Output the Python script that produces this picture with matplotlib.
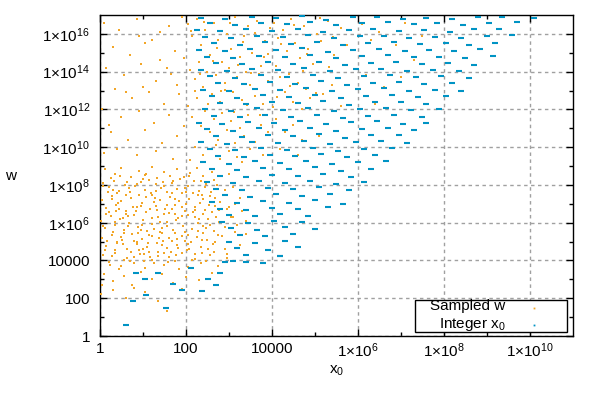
import numpy as np
import matplotlib
matplotlib.use('Agg')
import matplotlib.pyplot as plt
from matplotlib.ticker import FixedLocator, FuncFormatter, NullFormatter
from matplotlib.patches import Rectangle

plt.rcParams['font.family'] = ['Liberation Sans', 'DejaVu Sans']
plt.rcParams['mathtext.fontset'] = 'custom'
plt.rcParams['mathtext.rm'] = 'Liberation Sans'
plt.rcParams['mathtext.it'] = 'Liberation Sans:italic'
plt.rcParams['mathtext.bf'] = 'Liberation Sans:bold'
plt.rcParams['font.size'] = 11

# ---------------- axis settings (decade exponents) ----------------
x_major_exp = [0, 2, 4, 6, 8, 10]
x_minor_exp = [1, 3, 5, 7, 9]
y_major_exp = [0, 2, 4, 6, 8, 10, 12, 14, 16]
y_minor_exp = [1, 3, 5, 7, 9, 11, 13, 15]
x_limits = (1, 1e11)
y_limits = (1, 1e17)
x_label = 'x$_0$'
y_label = 'w'
legend_labels = ['Sampled w', 'Integer x$_0$']

# ---------------- data, as (log10 x0, log10 w) ----------------
sampled_dense = [
    (0.12,8.85),(0.35,8.6),(0.5,8.9),(0.72,8.4),(0.9,8.75),(1.05,8.55),(1.2,8.95),(1.33,8.35),
    (1.5,8.7),(1.62,8.5),(1.8,8.85),(1.95,8.4),(2.1,8.65),(2.25,8.9),(2.4,8.45),(2.6,8.7),
    (2.8,8.5),(0.25,8.35),(0.62,8.15),(1.15,8.25),(1.7,8.2),(2.35,8.2),(3.0,8.6),
    (0.08,8.1),(0.2,7.9),(0.33,8.2),(0.45,7.7),(0.58,8.0),(0.7,7.6),(0.82,7.95),(0.95,8.15),
    (1.05,7.75),(1.18,7.55),(1.3,8.05),(1.42,7.85),(1.55,7.6),(1.68,8.1),(1.8,7.8),(1.92,7.55),
    (2.05,7.95),(2.18,8.2),(2.3,7.7),(2.45,7.9),(2.58,7.6),(2.72,8.0),(2.9,7.75),(3.1,7.9),
    (0.4,7.55),(1.0,8.3),(1.5,7.95),(2.0,7.65),(2.65,8.25),
    (0.05,7.2),(0.15,6.8),(0.28,7.4),(0.38,6.95),(0.5,7.15),(0.6,6.6),(0.72,7.3),(0.85,6.85),
    (0.97,7.05),(1.08,6.55),(1.2,7.45),(1.3,6.9),(1.4,7.2),(1.52,6.7),(1.63,7.35),(1.75,6.95),
    (1.85,7.15),(1.97,6.6),(2.08,7.25),(2.2,6.85),(2.32,7.05),(2.45,6.65),(2.55,7.4),(2.68,6.9),
    (2.8,7.1),(2.95,6.7),(3.15,7.0),(3.3,6.6),(0.22,6.55),(0.9,7.45),(1.6,6.52),(2.38,7.45),
    (0.45,6.7),(1.25,7.1),(2.0,7.0),(2.6,6.55),
    (0.03,6.1),(0.12,5.7),(0.25,6.35),(0.35,5.9),(0.47,6.2),(0.55,5.6),(0.68,6.0),(0.78,6.4),
    (0.88,5.75),(1.0,6.15),(1.1,5.55),(1.22,5.95),(1.35,6.3),(1.45,5.7),(1.57,6.05),(1.7,5.6),
    (1.82,6.25),(1.93,5.85),(2.05,6.4),(2.15,5.65),(2.28,6.0),(2.4,5.8),(2.52,6.2),(2.65,5.55),
    (2.78,6.05),(2.92,5.75),(3.05,6.3),(3.2,5.9),(3.4,6.1),(0.6,6.45),(1.4,5.52),(2.2,6.3),
    (0.95,5.6),(1.75,6.45),
    (0.05,5.2),(0.15,4.75),(0.28,5.35),(0.4,4.9),(0.52,5.1),(0.63,4.6),(0.75,5.4),(0.85,4.85),
    (0.98,5.15),(1.1,4.7),(1.2,5.3),(1.32,4.95),(1.45,5.45),(1.55,4.65),(1.68,5.05),(1.8,4.8),
    (1.9,5.3),(2.02,4.55),(2.12,5.0),(2.25,5.25),(2.35,4.7),(2.5,5.1),(2.62,4.85),(2.75,5.35),
    (2.9,4.6),(3.05,5.0),(3.25,4.8),(0.35,4.55),(1.0,4.6),(1.6,5.2),(2.4,5.45),
    (0.08,4.3),(0.22,3.9),(0.35,4.4),(0.5,3.7),(0.62,4.15),(0.8,3.85),(0.93,4.35),(1.05,3.6),
    (1.2,4.05),(1.35,4.45),(1.48,3.75),(1.6,4.2),(1.75,3.95),(1.9,4.4),(2.05,3.65),(2.2,4.1),
    (2.35,3.85),(2.55,4.3),(2.75,3.7),(2.95,4.15),(0.45,3.55),(1.15,4.45),(1.85,3.55),(2.65,4.45),
    (0.1,3.3),(0.3,2.9),(0.55,3.2),(0.75,2.7),(0.95,3.4),(1.2,3.0),(1.45,3.3),(1.7,2.8),
    (2.0,3.15),(2.3,2.95),(2.6,3.35),(0.05,2.7),
]

sampled_core = [
    (0.18,7.6),(0.42,7.05),(0.66,6.35),(0.88,5.45),(1.12,4.95),(1.36,4.25),(1.58,3.9),(1.82,4.65),
    (2.06,5.35),(2.3,6.2),(2.54,6.95),(0.3,5.5),(0.54,4.85),(0.78,4.2),(1.02,3.95),(1.26,5.65),
    (1.5,6.45),(1.74,7.25),(1.98,7.85),(2.22,4.35),(2.46,3.95),(0.12,4.55),(0.36,6.05),(0.6,7.45),
    (0.84,6.6),(1.08,7.35),(1.32,6.65),(1.56,5.85),(1.8,5.15),(2.04,4.85),(2.28,5.55),(2.52,4.6),
    (0.24,3.75),(0.48,5.25),(0.72,4.45),(0.96,6.9),(1.2,6.25),(1.44,4.8),(1.68,6.75),(1.92,6.35),
    (2.16,7.55),(2.4,6.45),(0.06,5.85),(0.3,7.75),(0.54,6.25),(0.78,5.05),(1.02,4.35),(1.26,3.85),
    (1.5,4.4),(1.74,5.45),(1.98,5.05),(2.22,6.65),(2.46,5.7),(2.7,6.3),(2.85,5.3),(3.0,6.85),
    (3.15,5.5),(2.95,4.35),(0.15,6.45),(0.4,5.0),(0.65,5.85),(0.9,4.55),(1.15,5.35),(1.4,6.05),
    (1.65,4.45),(1.9,6.85),(2.15,4.05),(2.4,7.25),(0.7,3.95),(1.3,7.7),
    (0.07,7.95),(0.27,7.25),(0.47,8.45),(0.67,7.85),(0.87,8.05),(1.07,8.6),(1.27,7.3),(1.47,8.15),
    (1.67,7.55),(1.87,8.3),(2.07,8.45),(2.27,7.45),(2.47,8.05),(2.67,7.3),(0.17,5.05),(0.37,6.6),
    (0.57,5.45),(0.77,6.85),(0.97,5.9),(1.17,6.7),(1.37,5.2),(1.57,6.95),(1.77,6.15),(1.97,5.5),
    (2.17,6.55),(2.37,5.1),(2.57,5.9),(2.77,6.65),(0.27,4.25),(0.57,4.05),(0.87,5.0),(1.17,4.2),
    (1.47,5.05),(1.77,4.3),(2.07,4.6),(2.37,4.4),(2.67,5.0),(3.1,6.3),(3.25,7.3),(3.4,5.4),
]

sampled_low = [
    (0.02,2.2),(0.3,2.45),(0.6,2.0),(1.05,2.35),(1.35,1.85),(1.55,1.35),(1.9,2.5),(0.8,2.55),
]

sampled_upper = [
    (0.1,16.6),(0.45,16.2),(0.85,16.8),(1.2,15.7),(1.6,16.4),(1.9,16.9),(0.3,15.3),(0.7,14.9),
    (1.05,15.5),(1.4,14.6),(1.75,15.1),(0.15,14.2),(0.55,13.8),(0.95,14.4),(1.3,13.5),(1.65,13.9),
    (1.95,14.7),(0.35,13.1),(0.75,12.6),(1.15,12.9),(1.5,12.3),(1.85,12.8),(0.05,12.0),(0.5,11.6),
    (0.9,11.9),(1.25,11.3),(1.6,11.7),(1.95,11.1),(0.25,10.8),(0.65,10.4),(1.05,10.9),(1.45,10.2),
    (1.8,10.6),(0.4,9.9),(0.85,9.6),(1.3,9.8),(1.7,9.4),(0.2,11.2),(0.6,12.9),(1.0,13.2),
    (1.4,16.1),(1.8,13.3),(0.9,15.9),(1.55,14.2),(0.1,9.7),
    (2.05,16.5),(2.15,15.9),(2.25,16.8),(2.35,15.4),(2.45,16.2),(2.55,14.9),(2.65,16.6),(2.75,15.7),
    (2.85,14.5),(2.95,16.0),(3.05,15.2),(3.15,16.9),(3.25,14.8),(3.35,15.9),(3.45,16.4),(3.55,15.0),
    (3.65,16.7),(3.75,14.3),(3.85,15.6),(3.95,16.3),
    (2.1,14.1),(2.2,13.6),(2.3,14.5),(2.4,13.2),(2.5,14.0),(2.6,12.8),(2.7,13.8),(2.8,12.4),
    (2.9,13.4),(3.0,14.2),(3.1,12.9),(3.2,13.7),(3.3,12.5),(3.4,14.0),(3.5,13.3),(3.6,12.7),
    (3.7,13.9),(3.8,12.3),(3.9,13.5),
    (2.05,12.2),(2.15,11.6),(2.25,12.6),(2.35,11.1),(2.45,11.9),(2.55,10.8),(2.65,11.5),(2.75,10.4),
    (2.85,11.8),(2.95,10.9),(3.05,11.4),(3.15,10.2),(3.25,11.0),(3.35,10.6),(3.45,11.7),(3.6,10.3),
    (3.75,11.2),(3.9,10.8),
    (2.2,10.0),(2.4,9.6),(2.6,9.9),(2.8,9.4),(3.0,9.8),(3.2,9.5),(3.5,9.9),(3.8,9.6),
    (2.1,9.3),(2.7,10.1),(3.3,9.2),
    (4.05,16.6),(4.15,15.8),(4.25,16.2),(4.35,15.1),(4.45,16.8),(4.55,15.5),(4.65,14.7),(4.75,16.4),
    (4.85,15.2),(4.95,14.4),(5.05,16.0),(5.15,15.6),(5.3,16.7),(5.45,14.9),(5.6,16.3),(5.75,15.4),
    (4.1,14.3),(4.2,13.7),(4.3,12.9),(4.4,13.9),(4.5,12.4),(4.6,13.4),(4.7,12.0),(4.8,13.1),
    (4.9,12.6),(5.0,13.8),(5.2,12.8),(5.4,13.3),(5.6,12.2),
    (4.1,11.5),(4.3,10.8),(4.5,11.2),(4.7,10.4),(4.9,11.0),(4.2,9.9),(4.6,9.6),(5.1,10.6),
    (6.1,16.5),(6.3,15.7),(6.5,16.1),(6.7,14.9),(6.9,15.4),(7.1,16.6),(7.3,14.6),(7.5,15.9),
    (6.2,13.8),(6.6,13.2),(6.4,12.3),(7.0,13.7),
    (2.12,16.15),(2.42,16.65),(2.72,15.25),(3.02,16.55),(3.32,15.55),(3.62,16.05),(3.92,14.95),(4.22,15.45),
    (4.52,16.45),(4.82,14.95),(5.12,16.85),(5.42,15.85),(2.32,13.85),(2.62,14.55),(2.92,13.05),(3.22,14.35),
    (3.52,13.95),(3.82,14.75),(4.12,12.65),(4.42,13.25),(4.72,14.05),(5.02,12.85),(5.32,14.25),(2.22,12.95),
    (2.52,12.3),(2.82,12.95),(3.12,11.85),(3.42,12.25),(3.72,11.7),(4.02,12.15),
]

integer_dashes = [
    (2.35,16.85),(2.9,16.78),(3.55,16.9),(4.1,16.82),(4.7,16.93),(5.25,16.76),(5.9,16.87),(6.45,16.91),
    (7.05,16.8),(7.6,16.85),(8.2,16.77),(8.8,16.89),(9.35,16.92),(10.1,16.83),
    (2.55,16.55),(3.15,16.48),(3.75,16.6),(4.35,16.52),(4.9,16.63),(5.5,16.46),(6.1,16.57),(6.7,16.61),
    (7.3,16.5),(7.85,16.55),(8.45,16.47),(9.05,16.59),(9.7,16.62),
    (2.25,16.2),(2.8,16.13),(3.4,16.25),(4.0,16.17),(4.6,16.28),(5.2,16.11),(5.8,16.22),(6.35,16.26),
    (6.95,16.15),(7.55,16.2),(8.15,16.12),(8.7,16.24),(9.3,16.27),
    (2.45,15.85),(3.05,15.78),(3.65,15.9),(4.25,15.82),(4.85,15.93),(5.45,15.76),(6.05,15.87),(6.6,15.91),
    (7.2,15.8),(7.8,15.85),(8.4,15.77),(9.0,15.89),(9.6,15.92),
    (2.65,15.5),(3.25,15.43),(3.85,15.55),(4.45,15.47),(5.05,15.58),(5.65,15.41),(6.25,15.52),(6.85,15.56),
    (7.45,15.45),(8.05,15.5),(8.6,15.42),(9.2,15.54),
    (2.3,15.15),(2.9,15.08),(3.5,15.2),(4.1,15.12),(4.7,15.23),(5.3,15.06),(5.9,15.17),(6.5,15.21),
    (7.1,15.1),(7.65,15.15),(8.25,15.07),(8.85,15.19),
    (2.5,14.8),(3.1,14.73),(3.7,14.85),(4.3,14.77),(4.9,14.88),(5.5,14.71),(6.1,14.82),(6.7,14.86),
    (7.3,14.75),(7.9,14.8),(8.5,14.72),(9.15,14.84),
    (2.7,14.45),(3.3,14.38),(3.9,14.5),(4.5,14.42),(5.1,14.53),(5.7,14.36),(6.3,14.47),(6.9,14.51),
    (7.5,14.4),(8.1,14.45),(8.7,14.37),
    (2.35,14.1),(2.95,14.03),(3.55,14.15),(4.15,14.07),(4.75,14.18),(5.35,14.01),(5.95,14.12),(6.55,14.16),
    (7.15,14.05),(7.75,14.1),(8.35,14.02),
    (2.55,13.75),(3.15,13.68),(3.75,13.8),(4.35,13.72),(4.95,13.83),(5.55,13.66),(6.15,13.77),(6.75,13.81),
    (7.35,13.7),(7.95,13.75),(8.6,13.67),
    (2.75,13.4),(3.35,13.33),(3.95,13.45),(4.55,13.37),(5.15,13.48),(5.75,13.31),(6.35,13.42),(6.95,13.46),
    (7.55,13.35),(8.2,13.4),
    (2.4,13.05),(3.0,12.98),(3.6,13.1),(4.2,13.02),(4.8,13.13),(5.4,12.96),(6.0,13.07),(6.6,13.11),
    (7.2,13.0),(7.8,13.05),(8.4,12.97),
    (2.6,12.7),(3.2,12.63),(3.8,12.75),(4.4,12.67),(5.0,12.78),(5.6,12.61),(6.2,12.72),(6.8,12.76),
    (7.4,12.65),(8.05,12.7),
    (2.8,12.35),(3.4,12.28),(4.0,12.4),(4.6,12.32),(5.2,12.43),(5.8,12.26),(6.4,12.37),(7.0,12.41),
    (7.6,12.3),
    (2.45,12.0),(3.05,11.93),(3.65,12.05),(4.25,11.97),(4.85,12.08),(5.45,11.91),(6.05,12.02),(6.65,12.06),
    (7.25,11.95),(7.9,12.0),
    (2.65,11.65),(3.25,11.58),(3.85,11.7),(4.45,11.62),(5.05,11.73),(5.65,11.56),(6.25,11.67),(6.85,11.71),
    (7.5,11.6),
    (2.3,11.3),(2.85,11.23),(3.45,11.35),(4.05,11.27),(4.65,11.38),(5.25,11.21),(5.85,11.32),(6.45,11.36),
    (7.05,11.25),(7.6,11.3),
    (2.5,10.95),(3.1,10.88),(3.7,11.0),(4.3,10.92),(4.9,11.03),(5.5,10.86),(6.1,10.97),(6.7,11.01),
    (7.3,10.9),
    (2.7,10.6),(3.3,10.53),(3.9,10.65),(4.5,10.57),(5.1,10.68),(5.7,10.51),(6.3,10.62),(6.95,10.66),
    (2.35,10.25),(2.95,10.18),(3.55,10.3),(4.15,10.22),(4.75,10.33),(5.35,10.16),(5.95,10.27),(6.55,10.31),
    (7.15,10.2),
    (2.55,9.9),(3.15,9.83),(3.75,9.95),(4.35,9.87),(4.95,9.98),(5.55,9.81),(6.15,9.92),(6.8,9.96),
    (2.75,9.55),(3.35,9.48),(3.95,9.6),(4.55,9.52),(5.15,9.63),(5.75,9.46),(6.4,9.57),
    (2.4,9.2),(3.0,9.13),(3.6,9.25),(4.2,9.17),(4.8,9.28),(5.4,9.11),(6.0,9.22),(6.65,9.26),
    (2.6,8.85),(3.2,8.78),(3.8,8.9),(4.4,8.82),(5.0,8.93),(5.6,8.76),(6.3,8.87),
    (2.8,8.5),(3.4,8.43),(4.0,8.55),(4.6,8.47),(5.2,8.58),(5.85,8.41),
    (2.5,8.15),(3.1,8.08),(3.7,8.2),(4.3,8.12),(4.9,8.23),(5.5,8.06),(6.15,8.17),
    (2.7,7.8),(3.3,7.73),(3.9,7.85),(4.5,7.77),(5.1,7.88),(5.8,7.71),
    (2.9,7.45),(3.5,7.38),(4.1,7.5),(4.7,7.42),(5.35,7.53),
    (2.6,7.1),(3.2,7.03),(3.8,7.15),(4.4,7.07),(5.0,7.18),(5.65,7.01),
    (2.8,6.75),(3.4,6.68),(4.0,6.8),(4.6,6.72),(5.3,6.83),
    (3.0,6.4),(3.6,6.33),(4.2,6.45),(4.85,6.37),
    (2.85,6.05),(3.45,5.98),(4.05,6.1),(4.7,6.02),
    (3.05,5.7),(3.65,5.63),(4.3,5.75),(5.0,5.67),
    (3.25,5.35),(3.85,5.28),(4.5,5.4),
    (3.0,5.0),(3.6,4.93),(4.3,5.05),
    (3.2,4.65),(3.9,4.58),(4.6,4.7),
    (3.4,4.3),(4.2,4.23),
    (3.1,3.95),(3.8,3.88),
]

integer_sparse = [
    (0.60,0.58),(0.76,1.85),(1.06,2.17),(1.53,1.48),(1.04,3.02),(1.34,3.33),(1.71,2.75),(1.92,2.43),
    (2.38,2.38),(2.52,3.02),(2.71,2.70),(2.80,3.33),(2.92,3.92),(3.40,3.92),(4.19,4.23),(0.83,3.33),
    (2.11,3.60),
]

# ---------------- build arrays ----------------
sampled = np.array(sampled_dense + sampled_core + sampled_low + sampled_upper)
integer = np.array(integer_dashes + integer_sparse)
sampled_x0, sampled_w = 10.0 ** sampled[:, 0], 10.0 ** sampled[:, 1]
integer_x0, integer_w = 10.0 ** integer[:, 0], 10.0 ** integer[:, 1]

orange = '#F2A628'
blue = '#0093C4'

fig = plt.figure(figsize=(6, 4), dpi=100)
ax = fig.add_axes([100 / 600, 64 / 400, 472.5 / 600, 321 / 400])

ax.plot(sampled_x0, sampled_w, ls='none', marker='s', ms=1.9, mew=0, color=orange, zorder=3)
ax.plot(integer_x0, integer_w, ls='none', marker='_', ms=5, mew=1.5, color=blue, zorder=4)

ax.set_xscale('log')
ax.set_yscale('log')
ax.set_xlim(*x_limits)
ax.set_ylim(*y_limits)


def fmt(v, pos):
    e = int(round(np.log10(v)))
    return str(10 ** e) if e <= 4 else r'1×10$^{%d}$' % e


ax.xaxis.set_major_locator(FixedLocator([10.0 ** e for e in x_major_exp]))
ax.xaxis.set_minor_locator(FixedLocator([10.0 ** e for e in x_minor_exp]))
ax.yaxis.set_major_locator(FixedLocator([10.0 ** e for e in y_major_exp]))
ax.yaxis.set_minor_locator(FixedLocator([10.0 ** e for e in y_minor_exp]))
ax.xaxis.set_major_formatter(FuncFormatter(fmt))
ax.yaxis.set_major_formatter(FuncFormatter(fmt))
ax.xaxis.set_minor_formatter(NullFormatter())
ax.yaxis.set_minor_formatter(NullFormatter())

ax.tick_params(which='both', direction='in', top=True, right=True, width=1, colors='black')
ax.tick_params(which='major', length=5)
ax.tick_params(which='minor', length=3)
ax.tick_params(axis='x', which='major', pad=4, labelsize=11)
ax.tick_params(axis='y', which='major', pad=7, labelsize=11)
for s in ax.spines.values():
    s.set_linewidth(1.0)

ax.grid(True, which='major', color='#a0a0a0', linestyle=(0, (2.5, 2.5)), linewidth=1)
ax.set_axisbelow(True)

ax.set_xlabel(x_label, fontsize=11)
ax.xaxis.set_label_coords(0.5, -0.085)
ax.set_ylabel(y_label, rotation=0, fontsize=11, ha='center', va='center')
ax.yaxis.set_label_coords(-0.19, 0.5)

# legend (gnuplot style: right-justified text, sample on the right)
box = Rectangle((0.667, 0.0125), 0.321, 0.1, transform=ax.transAxes,
                facecolor='white', edgecolor='black', linewidth=1, zorder=10)
ax.add_patch(box)
ax.text(0.857, 0.081, legend_labels[0], transform=ax.transAxes, ha='right', va='baseline',
        fontsize=11, zorder=11)
ax.text(0.859, 0.025, legend_labels[1], transform=ax.transAxes, ha='right', va='baseline',
        fontsize=11, zorder=11)
ax.plot([0.918], [0.086], transform=ax.transAxes, ls='none', marker='s', ms=1.3, mew=0,
        color=orange, zorder=11, clip_on=False)
ax.plot([0.918], [0.035], transform=ax.transAxes, ls='none', marker='s', ms=1.3, mew=0,
        color=blue, zorder=11, clip_on=False)

fig.savefig('out.png', dpi=100)
